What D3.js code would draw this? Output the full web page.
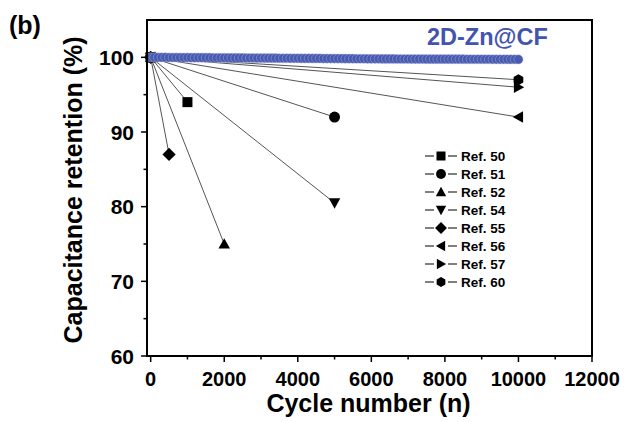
<!DOCTYPE html>
<html>
<head>
<meta charset="utf-8">
<script src="https://cdn.jsdelivr.net/npm/d3@7"></script>
<style>
  body { margin: 0; background: #fff; }
  svg { display: block; font-family: Arial, "Liberation Sans", sans-serif; }
</style>
</head>
<body>
<svg id="chart" width="636" height="422"></svg>
<script>
// reference data, end points of each literature result (all start at 0 cycles, 100 %)
const refNames = ["Ref. 50", "Ref. 51", "Ref. 52", "Ref. 54", "Ref. 55", "Ref. 56", "Ref. 57", "Ref. 60"];
const refShapes = ["square", "circle", "triUp", "triDown", "diamond", "triLeft", "triRight", "hexagon"];
const refStartCycle = 0;
const refStartRet = 100;
const refEndCycle = [1000, 5000, 2000, 5000, 500, 10000, 10000, 10000];
const refEndRet = [94, 92, 75, 80.5, 87, 92, 96, 97];

// 2D-Zn@CF cycling data
const znCycles = [
  0, 100, 200, 300, 400, 500, 600, 700, 800, 900,
  1000, 1100, 1200, 1300, 1400, 1500, 1600, 1700, 1800, 1900,
  2000, 2100, 2200, 2300, 2400, 2500, 2600, 2700, 2800, 2900,
  3000, 3100, 3200, 3300, 3400, 3500, 3600, 3700, 3800, 3900,
  4000, 4100, 4200, 4300, 4400, 4500, 4600, 4700, 4800, 4900,
  5000, 5100, 5200, 5300, 5400, 5500, 5600, 5700, 5800, 5900,
  6000, 6100, 6200, 6300, 6400, 6500, 6600, 6700, 6800, 6900,
  7000, 7100, 7200, 7300, 7400, 7500, 7600, 7700, 7800, 7900,
  8000, 8100, 8200, 8300, 8400, 8500, 8600, 8700, 8800, 8900,
  9000, 9100, 9200, 9300, 9400, 9500, 9600, 9700, 9800, 9900,
  10000
];
const znRet = [
  100.00, 100.00, 99.99, 99.99, 99.99, 99.98, 99.98, 99.98, 99.97, 99.97,
  99.97, 99.96, 99.96, 99.96, 99.95, 99.95, 99.95, 99.94, 99.94, 99.94,
  99.93, 99.93, 99.93, 99.92, 99.92, 99.92, 99.91, 99.91, 99.91, 99.90,
  99.90, 99.90, 99.89, 99.89, 99.89, 99.88, 99.88, 99.88, 99.87, 99.87,
  99.87, 99.86, 99.86, 99.86, 99.85, 99.85, 99.85, 99.84, 99.84, 99.84,
  99.83, 99.83, 99.83, 99.82, 99.82, 99.82, 99.81, 99.81, 99.81, 99.80,
  99.80, 99.80, 99.80, 99.79, 99.79, 99.79, 99.79, 99.78, 99.78, 99.78,
  99.78, 99.77, 99.77, 99.77, 99.77, 99.76, 99.76, 99.76, 99.76, 99.76,
  99.75, 99.75, 99.75, 99.75, 99.75, 99.75, 99.74, 99.74, 99.74, 99.74,
  99.74, 99.74, 99.74, 99.73, 99.73, 99.73, 99.73, 99.73, 99.73, 99.73,
  99.72
];

// axis ticks
const xMajor = [0, 2000, 4000, 6000, 8000, 10000, 12000];
const xMinor = [1000, 3000, 5000, 7000, 9000, 11000];
const yMajor = [60, 70, 80, 90, 100];
const yMinor = [65, 75, 85, 95];

const svg = d3.select("#chart");
const pLeft = 147, pRight = 592, pTop = 20, pBottom = 356;

const x = d3.scaleLinear().domain([-100, 12000]).range([pLeft, pRight]);
const y = d3.scaleLinear().domain([60, 105]).range([pBottom, pTop]);

function marker(type, r){
    // returns a path string centred on 0,0
    let h = r * 1.15;
    switch (type){
        case "square": return `M${-r},${-r}H${r}V${r}H${-r}Z`;
        case "circle": return d3.symbol(d3.symbolCircle, Math.PI * r * r * 1.2)();
        case "triUp": return `M0,${-h}L${h},${h * 0.8}L${-h},${h * 0.8}Z`;
        case "triDown": return `M0,${h}L${h},${-h * 0.8}L${-h},${-h * 0.8}Z`;
        case "triLeft": return `M${-h},0L${h * 0.8},${-h}L${h * 0.8},${h}Z`;
        case "triRight": return `M${h},0L${-h * 0.8},${-h}L${-h * 0.8},${h}Z`;
        case "diamond": return `M0,${-h * 1.15}L${h * 1.15},0L0,${h * 1.15}L${-h * 1.15},0Z`;
        case "hexagon": {
            let pts = [];
            for (let i = 0; i < 6; i++){
                let a = Math.PI / 6 + i * Math.PI / 3;
                pts.push([Math.cos(a) * r * 1.12, Math.sin(a) * r * 1.12]);
            }
            return "M" + pts.map(p => p.join(",")).join("L") + "Z";
        }
    }
}

// reference lines
const refs = svg.append("g");
refNames.forEach(function(name, i){
    refs.append("line")
        .attr("x1", x(refStartCycle)).attr("y1", y(refStartRet))
        .attr("x2", x(refEndCycle[i])).attr("y2", y(refEndRet[i]))
        .attr("stroke", "#555").attr("stroke-width", 1);
});
refNames.forEach(function(name, i){
    refs.append("path")
        .attr("d", marker(refShapes[i], 5))
        .attr("transform", `translate(${x(refStartCycle)},${y(refStartRet)})`)
        .attr("fill", "#000");
    refs.append("path")
        .attr("d", marker(refShapes[i], 5))
        .attr("transform", `translate(${x(refEndCycle[i])},${y(refEndRet[i])})`)
        .attr("fill", "#000");
});

// 2D-Zn@CF series
const line = d3.line().x(d => x(d[0])).y(d => y(d[1]));
const znData = znCycles.map((c, i) => [c, znRet[i]]);
svg.append("path").datum(znData)
   .attr("d", line).attr("fill", "none")
   .attr("stroke", "#4656ae").attr("stroke-width", 1.5);
svg.append("g").selectAll("circle")
   .data(znData)
   .enter()
   .append("circle")
   .attr("cx", d => x(d[0]))
   .attr("cy", d => y(d[1]))
   .attr("r", 4.6)
   .attr("fill", "#4859b0")
   .attr("stroke", "#aeb7e2")
   .attr("stroke-width", 0.45);

// axes
const ax = svg.append("g").attr("stroke", "#000");
ax.append("path")
  .attr("d", `M${pLeft},${pTop}H${pRight}V${pBottom}H${pLeft}Z`)
  .attr("fill", "none").attr("stroke-width", 2);

ax.selectAll(".xmaj").data(xMajor).enter().append("line")
  .attr("x1", d => x(d)).attr("x2", d => x(d))
  .attr("y1", pBottom).attr("y2", pBottom + 6).attr("stroke-width", 1.5);
ax.selectAll(".xmin").data(xMinor).enter().append("line")
  .attr("x1", d => x(d)).attr("x2", d => x(d))
  .attr("y1", pBottom).attr("y2", pBottom + 3.5).attr("stroke-width", 1.5);
ax.selectAll(".ymaj").data(yMajor).enter().append("line")
  .attr("y1", d => y(d)).attr("y2", d => y(d))
  .attr("x1", pLeft).attr("x2", pLeft - 6).attr("stroke-width", 1.5);
ax.selectAll(".ymin").data(yMinor).enter().append("line")
  .attr("y1", d => y(d)).attr("y2", d => y(d))
  .attr("x1", pLeft).attr("x2", pLeft - 3.5).attr("stroke-width", 1.5);

svg.append("g").selectAll("text").data(xMajor).enter().append("text")
   .attr("x", d => x(d)).attr("y", pBottom + 30)
   .attr("text-anchor", "middle")
   .attr("font-size", 20).attr("font-weight", "bold")
   .text(d => d);
svg.append("g").selectAll("text").data(yMajor).enter().append("text")
   .attr("x", pLeft - 13).attr("y", d => y(d) + 7.5)
   .attr("text-anchor", "end")
   .attr("font-size", 21).attr("font-weight", "bold")
   .text(d => d);

// titles
svg.append("text").attr("x", (pLeft + pRight) / 2 - 1).attr("y", 412)
   .attr("text-anchor", "middle").attr("font-size", 25).attr("font-weight", "bold")
   .text("Cycle number (n)");
svg.append("text").attr("transform", "translate(82,190) rotate(-90)")
   .attr("text-anchor", "middle").attr("font-size", 25).attr("font-weight", "bold")
   .text("Capacitance retention (%)");
svg.append("text").attr("x", 9).attr("y", 34)
   .attr("font-size", 25).attr("font-weight", "bold").text("(b)");
svg.append("text").attr("x", 427).attr("y", 45)
   .attr("font-size", 23.5).attr("font-weight", "bold").attr("fill", "#4354b0")
   .text("2D-Zn@CF");

// legend
const legend = svg.append("g");
refNames.forEach(function(name, i){
    let ly = 156 + i * 18;
    legend.append("line").attr("x1", 425).attr("x2", 434).attr("y1", ly).attr("y2", ly)
          .attr("stroke", "#000").attr("stroke-width", 1);
    legend.append("line").attr("x1", 448).attr("x2", 457).attr("y1", ly).attr("y2", ly)
          .attr("stroke", "#000").attr("stroke-width", 1);
    legend.append("path").attr("d", marker(refShapes[i], 4.5))
          .attr("transform", `translate(441,${ly})`).attr("fill", "#000");
    legend.append("text").attr("x", 461).attr("y", ly + 5)
          .attr("font-size", 13.5).attr("font-weight", "bold").text(name);
});
</script>
</body>
</html>
